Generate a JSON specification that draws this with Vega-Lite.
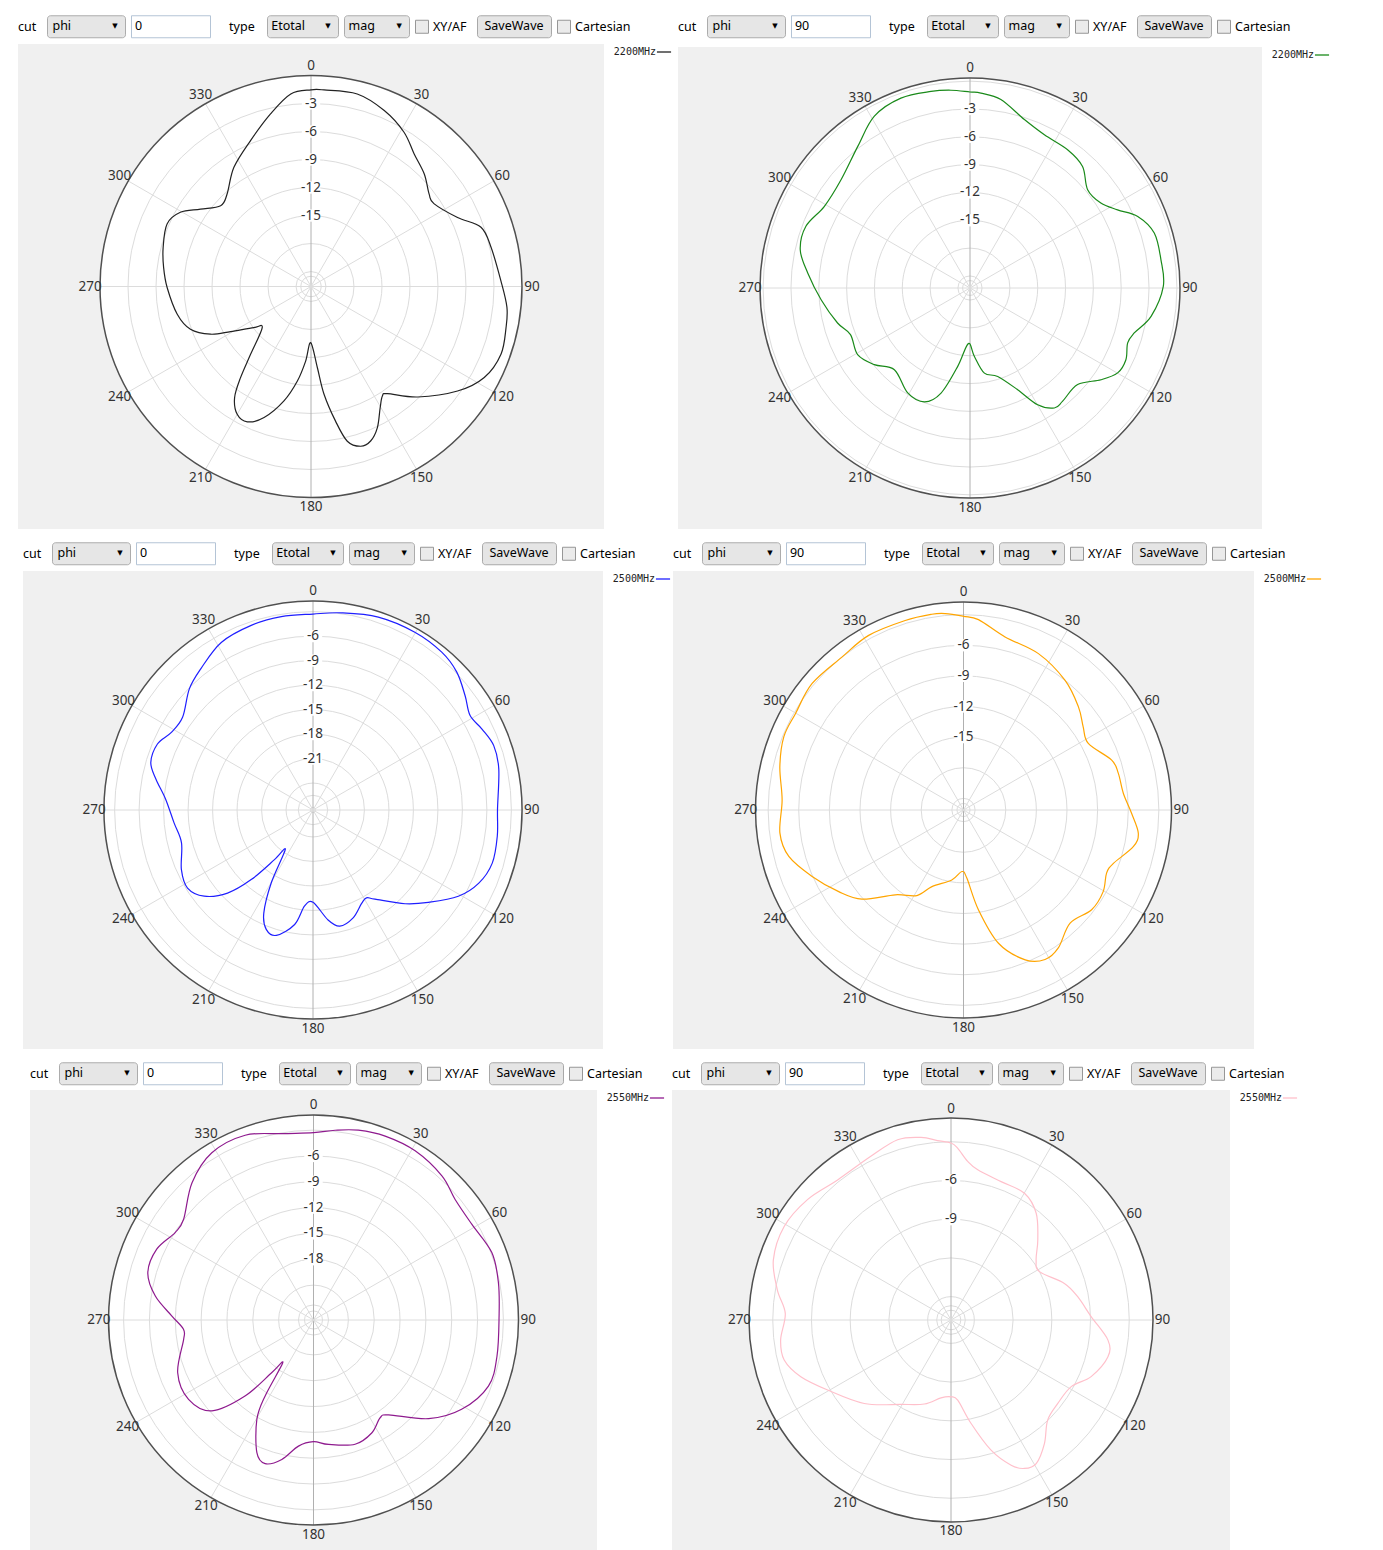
{
"$schema":"https://vega.github.io/schema/vega-lite/v6.json",
"padding":{"left":18,"top":14,"right":0,"bottom":0},
"background":"#ffffff",
"data":{"values":[{}]},
"config":{"view":{"stroke":null},"text":{"font":"Noto Sans","fontSize":12.5,"color":"#000000","baseline":"middle"},"legend":{"offset":52,"padding":0,"labelFont":"DejaVu Sans Mono","labelFontSize":10,"labelColor":"#222222","labelAlign":"right","labelOffset":-16,"symbolSize":200,"symbolStrokeWidth":1.3}},
"datasets":{
"levels":[{"p":"tl","lv":-3},{"p":"tl","lv":-6},{"p":"tl","lv":-9},{"p":"tl","lv":-12},{"p":"tl","lv":-15},{"p":"tl","lv":-18},{"p":"tl","lv":-21},{"p":"tl","lv":-21.5},
{"p":"tr","lv":0},{"p":"tr","lv":-3},{"p":"tr","lv":-6},{"p":"tr","lv":-9},{"p":"tr","lv":-12},{"p":"tr","lv":-15},{"p":"tr","lv":-18},{"p":"tr","lv":-21},{"p":"tr","lv":-21.5},
{"p":"ml","lv":-3},{"p":"ml","lv":-6},{"p":"ml","lv":-9},{"p":"ml","lv":-12},{"p":"ml","lv":-15},{"p":"ml","lv":-18},{"p":"ml","lv":-21},{"p":"ml","lv":-24},{"p":"ml","lv":-25.5},{"p":"ml","lv":-27},
{"p":"mr","lv":-3},{"p":"mr","lv":-6},{"p":"mr","lv":-9},{"p":"mr","lv":-12},{"p":"mr","lv":-15},{"p":"mr","lv":-18},{"p":"mr","lv":-21},{"p":"mr","lv":-21.5},
{"p":"bl","lv":-3},{"p":"bl","lv":-6},{"p":"bl","lv":-9},{"p":"bl","lv":-12},{"p":"bl","lv":-15},{"p":"bl","lv":-18},{"p":"bl","lv":-21},{"p":"bl","lv":-23.3},{"p":"bl","lv":-24},
{"p":"br","lv":-3},{"p":"br","lv":-6},{"p":"br","lv":-9},{"p":"br","lv":-12},{"p":"br","lv":-15},{"p":"br","lv":-15.7},{"p":"br","lv":-16.05}],
"ticks":[{"p":"tl","lv":-3},{"p":"tl","lv":-6},{"p":"tl","lv":-9},{"p":"tl","lv":-12},{"p":"tl","lv":-15},
{"p":"tr","lv":-3},{"p":"tr","lv":-6},{"p":"tr","lv":-9},{"p":"tr","lv":-12},{"p":"tr","lv":-15},
{"p":"ml","lv":-6},{"p":"ml","lv":-9},{"p":"ml","lv":-12},{"p":"ml","lv":-15},{"p":"ml","lv":-18},{"p":"ml","lv":-21},
{"p":"mr","lv":-6},{"p":"mr","lv":-9},{"p":"mr","lv":-12},{"p":"mr","lv":-15},
{"p":"bl","lv":-6},{"p":"bl","lv":-9},{"p":"bl","lv":-12},{"p":"bl","lv":-15},{"p":"bl","lv":-18},
{"p":"br","lv":-6},{"p":"br","lv":-9}],
"spokes":[{"a":0},{"a":30},{"a":60},{"a":90},{"a":120},{"a":150}],
"angles":[{"a":0},{"a":30},{"a":60},{"a":90},{"a":120},{"a":150},{"a":180},{"a":210},{"a":240},{"a":270},{"a":300},{"a":330}],
"tl":[{"t":0,"g":-1.53},{"t":3.8,"g":-1.5},{"t":13.5,"g":-1.39},{"t":22.6,"g":-2.18},{"t":31,"g":-3.29},{"t":37.9,"g":-4.61},{"t":45.2,"g":-5.5},{"t":52,"g":-6.54},{"t":56,"g":-6.72},{"t":64.8,"g":-5.25},{"t":70.8,"g":-3.32},{"t":77.8,"g":-2.86},{"t":88.3,"g":-2.25},{"t":96,"g":-1.5},{"t":101.9,"g":-1.25},{"t":109.6,"g":-1.0},{"t":117.7,"g":-1.64},{"t":125.5,"g":-3.32},{"t":136,"g":-6.15},{"t":144.5,"g":-8.51},{"t":146.9,"g":-8.6},{"t":150.3,"g":-7.65},{"t":154.8,"g":-5.9},{"t":158.9,"g":-4.86},{"t":162.7,"g":-4.68},{"t":166.8,"g":-5.58},{"t":169.7,"g":-7.97},{"t":173.1,"g":-10.98},{"t":175.5,"g":-13.87},{"t":180.3,"g":-16.59},{"t":184.1,"g":-14.59},{"t":188.2,"g":-12.37},{"t":193.3,"g":-10.01},{"t":199.7,"g":-7.69},{"t":205.2,"g":-6.58},{"t":210,"g":-6.79},{"t":214.5,"g":-8.15},{"t":217.7,"g":-10.26},{"t":221.7,"g":-12.87},{"t":229.9,"g":-15.77},{"t":234.3,"g":-15.05},{"t":240.7,"g":-12.73},{"t":244.6,"g":-10.69},{"t":250.5,"g":-8.9},{"t":258.3,"g":-7.97},{"t":269.6,"g":-7.19},{"t":277.4,"g":-6.68},{"t":284.8,"g":-6.22},{"t":293.5,"g":-5.79},{"t":299.6,"g":-6.51},{"t":305,"g":-8.15},{"t":311.8,"g":-9.62},{"t":317.8,"g":-9.22},{"t":327.1,"g":-7.4},{"t":337.5,"g":-5.68},{"t":346.8,"g":-3.61},{"t":354,"g":-1.86}],
"tr":[{"t":0,"g":-1.17},{"t":3.2,"g":-1.25},{"t":9.3,"g":-1.71},{"t":17.9,"g":-3.22},{"t":25.9,"g":-3.94},{"t":35.2,"g":-4.05},{"t":42.8,"g":-4.44},{"t":50.1,"g":-5.77},{"t":57,"g":-5.48},{"t":62.1,"g":-4.3},{"t":66.9,"g":-2.64},{"t":73.4,"g":-1.57},{"t":81.6,"g":-1.49},{"t":89.5,"g":-1.46},{"t":98.9,"g":-2.54},{"t":105.3,"g":-3.94},{"t":109.2,"g":-4.3},{"t":114.7,"g":-3.8},{"t":119.9,"g":-3.94},{"t":125,"g":-5.05},{"t":131.9,"g":-6.71},{"t":140.7,"g":-6.53},{"t":144.9,"g":-6.49},{"t":149.9,"g":-7.75},{"t":154.9,"g":-10.19},{"t":162.6,"g":-12.31},{"t":170.4,"g":-12.99},{"t":176.4,"g":-14.93},{"t":181.7,"g":-16.3},{"t":188.9,"g":-13.75},{"t":195.4,"g":-10.55},{"t":201.8,"g":-9.08},{"t":210.7,"g":-9.15},{"t":222.8,"g":-10.3},{"t":231.3,"g":-9.08},{"t":239.3,"g":-8.21},{"t":248.7,"g":-8.47},{"t":255.2,"g":-7.53},{"t":265.5,"g":-6.2},{"t":275.3,"g":-4.73},{"t":282.7,"g":-3.54},{"t":290.6,"g":-3.4},{"t":299.3,"g":-4.3},{"t":310,"g":-4.15},{"t":321.6,"g":-2.82},{"t":330.9,"g":-1.1},{"t":340,"g":-0.52},{"t":348.8,"g":-0.7},{"t":354.5,"g":-0.88}],
"ml":[{"t":0,"g":-3.3},{"t":8.2,"g":-2.9},{"t":18.7,"g":-2.35},{"t":29.8,"g":-2.2},{"t":39.2,"g":-2.35},{"t":46.2,"g":-2.9},{"t":53.1,"g":-4.0},{"t":59,"g":-4.85},{"t":64.4,"g":-4.35},{"t":70.4,"g":-3.8},{"t":77.6,"g":-4.0},{"t":89.8,"g":-4.7},{"t":98.1,"g":-4.5},{"t":106.5,"g":-4.4},{"t":113.8,"g":-5.1},{"t":120.7,"g":-6.6},{"t":128.7,"g":-9.2},{"t":135.5,"g":-11.2},{"t":145.2,"g":-14.0},{"t":148.7,"g":-14.7},{"t":152.5,"g":-14.4},{"t":159.6,"g":-13.2},{"t":167,"g":-12.7},{"t":172.2,"g":-13.7},{"t":180,"g":-16.0},{"t":185,"g":-15.5},{"t":189.1,"g":-13.1},{"t":196.3,"g":-11.3},{"t":201.4,"g":-11.6},{"t":205.5,"g":-13.3},{"t":209.8,"g":-17.0},{"t":215.1,"g":-21.4},{"t":217.8,"g":-19.6},{"t":221.6,"g":-15.9},{"t":225.8,"g":-12.7},{"t":231.6,"g":-10.3},{"t":238.1,"g":-9.2},{"t":245.6,"g":-9.6},{"t":256,"g":-10.7},{"t":264.8,"g":-10.2},{"t":274.2,"g":-9.2},{"t":281.1,"g":-7.7},{"t":286.3,"g":-6.6},{"t":293,"g":-6.6},{"t":298.6,"g":-7.5},{"t":305.4,"g":-7.7},{"t":314.4,"g":-6.1},{"t":321.6,"g":-5.2},{"t":331.3,"g":-3.9},{"t":341.5,"g":-3.45},{"t":350.7,"g":-3.3}],
"mr":[{"t":0,"g":-3.16},{"t":4.5,"g":-3.43},{"t":13.5,"g":-4.7},{"t":25.6,"g":-5.15},{"t":38,"g":-6.0},{"t":48.1,"g":-7.01},{"t":55.2,"g":-7.86},{"t":61.9,"g":-8.28},{"t":71.4,"g":-6.82},{"t":76.7,"g":-6.55},{"t":84.1,"g":-6.39},{"t":91.1,"g":-5.67},{"t":97.6,"g":-4.86},{"t":102.2,"g":-5.12},{"t":109.6,"g":-6.55},{"t":113.8,"g":-6.82},{"t":120.3,"g":-6.29},{"t":127.9,"g":-6.23},{"t":136.7,"g":-6.91},{"t":145.5,"g":-5.74},{"t":151.4,"g":-5.45},{"t":157.6,"g":-6.26},{"t":165.3,"g":-8.64},{"t":171.5,"g":-12.26},{"t":177.2,"g":-15.46},{"t":181.5,"g":-16.11},{"t":189.5,"g":-15.19},{"t":202.4,"g":-14.02},{"t":208.6,"g":-12.59},{"t":218.8,"g":-11.48},{"t":228.7,"g":-8.9},{"t":236.8,"g":-7.53},{"t":246.3,"g":-5.94},{"t":255.1,"g":-4.43},{"t":262.8,"g":-4.01},{"t":273.2,"g":-4.34},{"t":283.3,"g":-3.65},{"t":292.2,"g":-3.13},{"t":299.9,"g":-3.16},{"t":309.9,"g":-2.81},{"t":321.6,"g":-3.0},{"t":331.5,"g":-2.67},{"t":342.9,"g":-2.71},{"t":350.8,"g":-2.71},{"t":354.7,"g":-2.81}],
"bl":[{"t":0,"g":-3.29},{"t":6.5,"g":-2.87},{"t":13.3,"g":-2.4},{"t":21.3,"g":-2.13},{"t":31,"g":-2.13},{"t":41.7,"g":-2.63},{"t":49.6,"g":-3.45},{"t":58.9,"g":-3.56},{"t":69.3,"g":-2.91},{"t":78.6,"g":-3.14},{"t":88.8,"g":-3.49},{"t":101.1,"g":-3.33},{"t":110.7,"g":-3.33},{"t":121.1,"g":-4.96},{"t":130.6,"g":-7.44},{"t":141.7,"g":-11.0},{"t":145.7,"g":-11.31},{"t":152.6,"g":-10.3},{"t":161.5,"g":-9.83},{"t":173.1,"g":-10.49},{"t":180,"g":-10.92},{"t":186.8,"g":-10.3},{"t":192.8,"g":-8.44},{"t":198.6,"g":-7.44},{"t":203.1,"g":-8.29},{"t":209.7,"g":-11.77},{"t":212.5,"g":-14.6},{"t":215.7,"g":-18.93},{"t":218.4,"g":-17.27},{"t":222,"g":-13.16},{"t":228.2,"g":-9.22},{"t":237.6,"g":-7.86},{"t":248.8,"g":-8.13},{"t":261.5,"g":-9.8},{"t":265.9,"g":-9.91},{"t":271.6,"g":-8.6},{"t":278.6,"g":-6.47},{"t":285.9,"g":-5.04},{"t":294.3,"g":-5.07},{"t":302.3,"g":-6.04},{"t":307.8,"g":-5.96},{"t":318.5,"g":-3.76},{"t":328.7,"g":-2.32},{"t":339.7,"g":-2.17},{"t":350.4,"g":-3.1}],
"br":[{"t":0,"g":-3.1},{"t":2.2,"g":-3.48},{"t":6,"g":-4.45},{"t":10.1,"g":-4.99},{"t":19.9,"g":-5.41},{"t":30.1,"g":-5.46},{"t":38.6,"g":-6.23},{"t":47.3,"g":-7.66},{"t":54.8,"g":-8.74},{"t":61.3,"g":-9.0},{"t":72.1,"g":-7.58},{"t":79.6,"g":-6.83},{"t":88.6,"g":-5.95},{"t":97.3,"g":-4.55},{"t":103.2,"g":-4.32},{"t":112,"g":-5.1},{"t":119,"g":-6.16},{"t":128,"g":-6.31},{"t":136,"g":-6.03},{"t":142.9,"g":-4.81},{"t":149.3,"g":-3.88},{"t":153.7,"g":-3.98},{"t":157.5,"g":-4.63},{"t":162.9,"g":-6.26},{"t":169,"g":-8.64},{"t":175.2,"g":-10.58},{"t":180,"g":-10.86},{"t":187.3,"g":-10.73},{"t":197.6,"g":-9.98},{"t":210.7,"g":-9.21},{"t":226.1,"g":-7.48},{"t":240.4,"g":-5.82},{"t":249.3,"g":-4.37},{"t":256.5,"g":-3.52},{"t":263.3,"g":-3.52},{"t":272.3,"g":-3.96},{"t":279.8,"g":-3.16},{"t":288.7,"g":-2.28},{"t":299.2,"g":-1.99},{"t":310.1,"g":-2.3},{"t":321,"g":-2.85},{"t":333.9,"g":-2.69},{"t":343.5,"g":-2.25},{"t":350.7,"g":-2.48},{"t":355.7,"g":-2.87}]
},
"vconcat":[
{"hconcat":[
{"vconcat":[
{"hconcat":[
{"width":24,"height":22,"mark":{"type":"text","text":"cut","align":"left"},"encoding":{"x":{"datum":0,"type":"quantitative","scale":{"domain":[0,1]},"axis":null}}},
{"width":78,"height":22,"view":{"fill":"#e6e6e6","stroke":"#acacac","cornerRadius":3},"layer":[{"mark":{"type":"text","text":"phi","align":"left"},"encoding":{"x":{"datum":0.07,"type":"quantitative","scale":{"domain":[0,1]},"axis":null}}},{"mark":{"type":"text","text":"▼","font":"DejaVu Sans","fontSize":7},"encoding":{"x":{"datum":0.87,"type":"quantitative","scale":{"domain":[0,1]},"axis":null}}}]},
{"width":79,"height":22,"view":{"fill":"#ffffff","stroke":"#b4c4d6"},"mark":{"type":"text","text":"0","align":"left"},"encoding":{"x":{"datum":0.05,"type":"quantitative","scale":{"domain":[0,1]},"axis":null}}},
{"width":47,"height":22,"mark":{"type":"text","text":"type","align":"left"},"encoding":{"x":{"datum":0.3,"type":"quantitative","scale":{"domain":[0,1]},"axis":null}}},
{"width":71,"height":22,"view":{"fill":"#e6e6e6","stroke":"#acacac","cornerRadius":3},"layer":[{"mark":{"type":"text","text":"Etotal","align":"left"},"encoding":{"x":{"datum":0.06,"type":"quantitative","scale":{"domain":[0,1]},"axis":null}}},{"mark":{"type":"text","text":"▼","font":"DejaVu Sans","fontSize":7},"encoding":{"x":{"datum":0.86,"type":"quantitative","scale":{"domain":[0,1]},"axis":null}}}]},
{"width":65,"height":22,"view":{"fill":"#e6e6e6","stroke":"#acacac","cornerRadius":3},"layer":[{"mark":{"type":"text","text":"mag","align":"left"},"encoding":{"x":{"datum":0.07,"type":"quantitative","scale":{"domain":[0,1]},"axis":null}}},{"mark":{"type":"text","text":"▼","font":"DejaVu Sans","fontSize":7},"encoding":{"x":{"datum":0.85,"type":"quantitative","scale":{"domain":[0,1]},"axis":null}}}]},
{"width":13,"height":13,"view":{"fill":"#ebebeb","stroke":"#979797"},"mark":{"type":"text","text":""}},
{"width":39,"height":22,"mark":{"type":"text","text":"XY/AF","align":"left"},"encoding":{"x":{"datum":0,"type":"quantitative","scale":{"domain":[0,1]},"axis":null}}},
{"width":74,"height":22,"view":{"fill":"#e5e5e5","stroke":"#a8a8a8","cornerRadius":3},"mark":{"type":"text","text":"SaveWave"}},
{"width":13,"height":13,"view":{"fill":"#ebebeb","stroke":"#979797"},"mark":{"type":"text","text":""}},
{"width":60,"height":22,"mark":{"type":"text","text":"Cartesian","align":"left"},"encoding":{"x":{"datum":0,"type":"quantitative","scale":{"domain":[0,1]},"axis":null}}}
],"spacing":4,"center":true},
{"width":586,"height":485,"view":{"fill":"#f0f0f0"},"layer":[
{"data":{"values":[{}]},"mark":{"type":"arc","theta":0,"theta2":6.2832,"color":"#ffffff"},"encoding":{"radius":{"datum":1,"type":"quantitative","stack":null,"scale":{"type":"linear","domain":[0,1],"range":[0,211]}}}},
{"data":{"name":"levels"},"transform":[{"filter":"datum.p == 'tl'"},{"calculate":"(datum.lv + 22.6) / 22.6","as":"rn"}],"mark":{"type":"arc","theta":0,"theta2":6.2832,"filled":false,"color":"#dcdcdc","strokeWidth":1},"encoding":{"radius":{"field":"rn","type":"quantitative","stack":null,"scale":{"type":"linear","domain":[0,1],"range":[0,211]}}}},
{"data":{"name":"spokes"},"transform":[{"calculate":"sin(datum.a * PI / 180)","as":"sx"},{"calculate":"cos(datum.a * PI / 180)","as":"sy"},{"calculate":"-datum.sx","as":"ex"},{"calculate":"-datum.sy","as":"ey"}],"mark":{"type":"rule","strokeWidth":1},"encoding":{"x":{"field":"sx","type":"quantitative","scale":{"domain":[-1.38863,1.38863],"nice":false,"zero":false},"axis":null},"y":{"field":"sy","type":"quantitative","scale":{"domain":[-1.14929,1.14929],"nice":false,"zero":false},"axis":null},"x2":{"field":"ex"},"y2":{"field":"ey"},"color":{"condition":{"test":"datum.a == 0","value":"#b0b0b0"},"value":"#dcdcdc"}}},
{"data":{"values":[{}]},"mark":{"type":"arc","theta":0,"theta2":6.2832,"filled":false,"color":"#505050","strokeWidth":1.5},"encoding":{"radius":{"datum":1,"type":"quantitative","stack":null,"scale":{"type":"linear","domain":[0,1],"range":[0,211]}}}},
{"data":{"name":"tl"},"transform":[{"calculate":"(datum.g + 22.6) / 22.6","as":"rn"},{"calculate":"datum.rn * sin(datum.t * PI / 180)","as":"px"},{"calculate":"datum.rn * cos(datum.t * PI / 180)","as":"py"}],"mark":{"type":"line","interpolate":"cardinal-closed","strokeWidth":1.2},"encoding":{"x":{"field":"px","type":"quantitative","scale":{"domain":[-1.38863,1.38863],"nice":false,"zero":false},"axis":null},"y":{"field":"py","type":"quantitative","scale":{"domain":[-1.14929,1.14929],"nice":false,"zero":false},"axis":null},"order":{"field":"t","type":"quantitative"},"color":{"datum":"2200MHz","type":"nominal","scale":{"domain":["2200MHz"],"range":["#222222"]},"legend":{"title":null}}}},
{"data":{"name":"ticks"},"transform":[{"filter":"datum.p == 'tl'"},{"calculate":"(datum.lv + 22.6) / 22.6","as":"rn"}],"encoding":{"x":{"datum":0,"type":"quantitative","scale":{"domain":[-1.38863,1.38863],"nice":false,"zero":false},"axis":null},"y":{"field":"rn","type":"quantitative","scale":{"domain":[-1.14929,1.14929],"nice":false,"zero":false},"axis":null}},"layer":[{"mark":{"type":"point","shape":"M-1.5,-1L1.5,-1L1.5,1L-1.5,1Z","filled":true,"color":"#ffffff","opacity":1,"size":150,"strokeWidth":0}},{"mark":{"type":"text","fontSize":13.5,"color":"#333333"},"encoding":{"text":{"field":"lv","type":"nominal"}}}]},
{"data":{"name":"angles"},"transform":[{"calculate":"1.047 * sin(datum.a * PI / 180)","as":"lx"},{"calculate":"1.047 * cos(datum.a * PI / 180)","as":"ly"}],"mark":{"type":"text","fontSize":13.5,"color":"#333333"},"encoding":{"x":{"field":"lx","type":"quantitative","scale":{"domain":[-1.38863,1.38863],"nice":false,"zero":false},"axis":null},"y":{"field":"ly","type":"quantitative","scale":{"domain":[-1.14929,1.14929],"nice":false,"zero":false},"axis":null},"text":{"field":"a","type":"nominal"}}}
]}
],"spacing":6,"resolve":{"scale":{"color":"independent"},"legend":{"color":"independent"}}},
{"vconcat":[
{"hconcat":[
{"width":24,"height":22,"mark":{"type":"text","text":"cut","align":"left"},"encoding":{"x":{"datum":0,"type":"quantitative","scale":{"domain":[0,1]},"axis":null}}},
{"width":78,"height":22,"view":{"fill":"#e6e6e6","stroke":"#acacac","cornerRadius":3},"layer":[{"mark":{"type":"text","text":"phi","align":"left"},"encoding":{"x":{"datum":0.07,"type":"quantitative","scale":{"domain":[0,1]},"axis":null}}},{"mark":{"type":"text","text":"▼","font":"DejaVu Sans","fontSize":7},"encoding":{"x":{"datum":0.87,"type":"quantitative","scale":{"domain":[0,1]},"axis":null}}}]},
{"width":79,"height":22,"view":{"fill":"#ffffff","stroke":"#b4c4d6"},"mark":{"type":"text","text":"90","align":"left"},"encoding":{"x":{"datum":0.05,"type":"quantitative","scale":{"domain":[0,1]},"axis":null}}},
{"width":47,"height":22,"mark":{"type":"text","text":"type","align":"left"},"encoding":{"x":{"datum":0.3,"type":"quantitative","scale":{"domain":[0,1]},"axis":null}}},
{"width":71,"height":22,"view":{"fill":"#e6e6e6","stroke":"#acacac","cornerRadius":3},"layer":[{"mark":{"type":"text","text":"Etotal","align":"left"},"encoding":{"x":{"datum":0.06,"type":"quantitative","scale":{"domain":[0,1]},"axis":null}}},{"mark":{"type":"text","text":"▼","font":"DejaVu Sans","fontSize":7},"encoding":{"x":{"datum":0.86,"type":"quantitative","scale":{"domain":[0,1]},"axis":null}}}]},
{"width":65,"height":22,"view":{"fill":"#e6e6e6","stroke":"#acacac","cornerRadius":3},"layer":[{"mark":{"type":"text","text":"mag","align":"left"},"encoding":{"x":{"datum":0.07,"type":"quantitative","scale":{"domain":[0,1]},"axis":null}}},{"mark":{"type":"text","text":"▼","font":"DejaVu Sans","fontSize":7},"encoding":{"x":{"datum":0.85,"type":"quantitative","scale":{"domain":[0,1]},"axis":null}}}]},
{"width":13,"height":13,"view":{"fill":"#ebebeb","stroke":"#979797"},"mark":{"type":"text","text":""}},
{"width":39,"height":22,"mark":{"type":"text","text":"XY/AF","align":"left"},"encoding":{"x":{"datum":0,"type":"quantitative","scale":{"domain":[0,1]},"axis":null}}},
{"width":74,"height":22,"view":{"fill":"#e5e5e5","stroke":"#a8a8a8","cornerRadius":3},"mark":{"type":"text","text":"SaveWave"}},
{"width":13,"height":13,"view":{"fill":"#ebebeb","stroke":"#979797"},"mark":{"type":"text","text":""}},
{"width":60,"height":22,"mark":{"type":"text","text":"Cartesian","align":"left"},"encoding":{"x":{"datum":0,"type":"quantitative","scale":{"domain":[0,1]},"axis":null}}}
],"spacing":4,"center":true},
{"width":584,"height":482,"view":{"fill":"#f0f0f0"},"layer":[
{"data":{"values":[{}]},"mark":{"type":"arc","theta":0,"theta2":6.2832,"color":"#ffffff"},"encoding":{"radius":{"datum":1,"type":"quantitative","stack":null,"scale":{"type":"linear","domain":[0,1],"range":[0,210]}}}},
{"data":{"name":"levels"},"transform":[{"filter":"datum.p == 'tr'"},{"calculate":"(datum.lv + 22.3) / 22.64","as":"rn"}],"mark":{"type":"arc","theta":0,"theta2":6.2832,"filled":false,"color":"#dcdcdc","strokeWidth":1},"encoding":{"radius":{"field":"rn","type":"quantitative","stack":null,"scale":{"type":"linear","domain":[0,1],"range":[0,210]}}}},
{"data":{"name":"spokes"},"transform":[{"calculate":"sin(datum.a * PI / 180)","as":"sx"},{"calculate":"cos(datum.a * PI / 180)","as":"sy"},{"calculate":"-datum.sx","as":"ex"},{"calculate":"-datum.sy","as":"ey"}],"mark":{"type":"rule","strokeWidth":1},"encoding":{"x":{"field":"sx","type":"quantitative","scale":{"domain":[-1.39048,1.39048],"nice":false,"zero":false},"axis":null},"y":{"field":"sy","type":"quantitative","scale":{"domain":[-1.14762,1.14762],"nice":false,"zero":false},"axis":null},"x2":{"field":"ex"},"y2":{"field":"ey"},"color":{"condition":{"test":"datum.a == 0","value":"#b0b0b0"},"value":"#dcdcdc"}}},
{"data":{"values":[{}]},"mark":{"type":"arc","theta":0,"theta2":6.2832,"filled":false,"color":"#505050","strokeWidth":1.5},"encoding":{"radius":{"datum":1,"type":"quantitative","stack":null,"scale":{"type":"linear","domain":[0,1],"range":[0,210]}}}},
{"data":{"name":"tr"},"transform":[{"calculate":"(datum.g + 22.3) / 22.64","as":"rn"},{"calculate":"datum.rn * sin(datum.t * PI / 180)","as":"px"},{"calculate":"datum.rn * cos(datum.t * PI / 180)","as":"py"}],"mark":{"type":"line","interpolate":"cardinal-closed","strokeWidth":1.2},"encoding":{"x":{"field":"px","type":"quantitative","scale":{"domain":[-1.39048,1.39048],"nice":false,"zero":false},"axis":null},"y":{"field":"py","type":"quantitative","scale":{"domain":[-1.14762,1.14762],"nice":false,"zero":false},"axis":null},"order":{"field":"t","type":"quantitative"},"color":{"datum":"2200MHz","type":"nominal","scale":{"domain":["2200MHz"],"range":["#1a8a1a"]},"legend":{"title":null}}}},
{"data":{"name":"ticks"},"transform":[{"filter":"datum.p == 'tr'"},{"calculate":"(datum.lv + 22.3) / 22.64","as":"rn"}],"encoding":{"x":{"datum":0,"type":"quantitative","scale":{"domain":[-1.39048,1.39048],"nice":false,"zero":false},"axis":null},"y":{"field":"rn","type":"quantitative","scale":{"domain":[-1.14762,1.14762],"nice":false,"zero":false},"axis":null}},"layer":[{"mark":{"type":"point","shape":"M-1.5,-1L1.5,-1L1.5,1L-1.5,1Z","filled":true,"color":"#ffffff","opacity":1,"size":150,"strokeWidth":0}},{"mark":{"type":"text","fontSize":13.5,"color":"#333333"},"encoding":{"text":{"field":"lv","type":"nominal"}}}]},
{"data":{"name":"angles"},"transform":[{"calculate":"1.047 * sin(datum.a * PI / 180)","as":"lx"},{"calculate":"1.047 * cos(datum.a * PI / 180)","as":"ly"}],"mark":{"type":"text","fontSize":13.5,"color":"#333333"},"encoding":{"x":{"field":"lx","type":"quantitative","scale":{"domain":[-1.39048,1.39048],"nice":false,"zero":false},"axis":null},"y":{"field":"ly","type":"quantitative","scale":{"domain":[-1.14762,1.14762],"nice":false,"zero":false},"axis":null},"text":{"field":"a","type":"nominal"}}}
]}
],"spacing":9,"resolve":{"scale":{"color":"independent"},"legend":{"color":"independent"}}}
],"spacing":4,"resolve":{"scale":{"color":"independent"},"legend":{"color":"independent"}}},
{"hconcat":[
{"width":5,"height":22,"mark":{"type":"text","text":""}},
{"vconcat":[
{"hconcat":[
{"width":24,"height":22,"mark":{"type":"text","text":"cut","align":"left"},"encoding":{"x":{"datum":0,"type":"quantitative","scale":{"domain":[0,1]},"axis":null}}},
{"width":78,"height":22,"view":{"fill":"#e6e6e6","stroke":"#acacac","cornerRadius":3},"layer":[{"mark":{"type":"text","text":"phi","align":"left"},"encoding":{"x":{"datum":0.07,"type":"quantitative","scale":{"domain":[0,1]},"axis":null}}},{"mark":{"type":"text","text":"▼","font":"DejaVu Sans","fontSize":7},"encoding":{"x":{"datum":0.87,"type":"quantitative","scale":{"domain":[0,1]},"axis":null}}}]},
{"width":79,"height":22,"view":{"fill":"#ffffff","stroke":"#b4c4d6"},"mark":{"type":"text","text":"0","align":"left"},"encoding":{"x":{"datum":0.05,"type":"quantitative","scale":{"domain":[0,1]},"axis":null}}},
{"width":47,"height":22,"mark":{"type":"text","text":"type","align":"left"},"encoding":{"x":{"datum":0.3,"type":"quantitative","scale":{"domain":[0,1]},"axis":null}}},
{"width":71,"height":22,"view":{"fill":"#e6e6e6","stroke":"#acacac","cornerRadius":3},"layer":[{"mark":{"type":"text","text":"Etotal","align":"left"},"encoding":{"x":{"datum":0.06,"type":"quantitative","scale":{"domain":[0,1]},"axis":null}}},{"mark":{"type":"text","text":"▼","font":"DejaVu Sans","fontSize":7},"encoding":{"x":{"datum":0.86,"type":"quantitative","scale":{"domain":[0,1]},"axis":null}}}]},
{"width":65,"height":22,"view":{"fill":"#e6e6e6","stroke":"#acacac","cornerRadius":3},"layer":[{"mark":{"type":"text","text":"mag","align":"left"},"encoding":{"x":{"datum":0.07,"type":"quantitative","scale":{"domain":[0,1]},"axis":null}}},{"mark":{"type":"text","text":"▼","font":"DejaVu Sans","fontSize":7},"encoding":{"x":{"datum":0.85,"type":"quantitative","scale":{"domain":[0,1]},"axis":null}}}]},
{"width":13,"height":13,"view":{"fill":"#ebebeb","stroke":"#979797"},"mark":{"type":"text","text":""}},
{"width":39,"height":22,"mark":{"type":"text","text":"XY/AF","align":"left"},"encoding":{"x":{"datum":0,"type":"quantitative","scale":{"domain":[0,1]},"axis":null}}},
{"width":74,"height":22,"view":{"fill":"#e5e5e5","stroke":"#a8a8a8","cornerRadius":3},"mark":{"type":"text","text":"SaveWave"}},
{"width":13,"height":13,"view":{"fill":"#ebebeb","stroke":"#979797"},"mark":{"type":"text","text":""}},
{"width":60,"height":22,"mark":{"type":"text","text":"Cartesian","align":"left"},"encoding":{"x":{"datum":0,"type":"quantitative","scale":{"domain":[0,1]},"axis":null}}}
],"spacing":4,"center":true},
{"width":580,"height":478,"view":{"fill":"#f0f0f0"},"layer":[
{"data":{"values":[{}]},"mark":{"type":"arc","theta":0,"theta2":6.2832,"color":"#ffffff"},"encoding":{"radius":{"datum":1,"type":"quantitative","stack":null,"scale":{"type":"linear","domain":[0,1],"range":[0,209]}}}},
{"data":{"name":"levels"},"transform":[{"filter":"datum.p == 'ml'"},{"calculate":"(datum.lv + 27.3) / 25.6","as":"rn"}],"mark":{"type":"arc","theta":0,"theta2":6.2832,"filled":false,"color":"#dcdcdc","strokeWidth":1},"encoding":{"radius":{"field":"rn","type":"quantitative","stack":null,"scale":{"type":"linear","domain":[0,1],"range":[0,209]}}}},
{"data":{"name":"spokes"},"transform":[{"calculate":"sin(datum.a * PI / 180)","as":"sx"},{"calculate":"cos(datum.a * PI / 180)","as":"sy"},{"calculate":"-datum.sx","as":"ex"},{"calculate":"-datum.sy","as":"ey"}],"mark":{"type":"rule","strokeWidth":1},"encoding":{"x":{"field":"sx","type":"quantitative","scale":{"domain":[-1.38756,1.38756],"nice":false,"zero":false},"axis":null},"y":{"field":"sy","type":"quantitative","scale":{"domain":[-1.14354,1.14354],"nice":false,"zero":false},"axis":null},"x2":{"field":"ex"},"y2":{"field":"ey"},"color":{"condition":{"test":"datum.a == 0","value":"#b0b0b0"},"value":"#dcdcdc"}}},
{"data":{"values":[{}]},"mark":{"type":"arc","theta":0,"theta2":6.2832,"filled":false,"color":"#505050","strokeWidth":1.5},"encoding":{"radius":{"datum":1,"type":"quantitative","stack":null,"scale":{"type":"linear","domain":[0,1],"range":[0,209]}}}},
{"data":{"name":"ml"},"transform":[{"calculate":"(datum.g + 27.3) / 25.6","as":"rn"},{"calculate":"datum.rn * sin(datum.t * PI / 180)","as":"px"},{"calculate":"datum.rn * cos(datum.t * PI / 180)","as":"py"}],"mark":{"type":"line","interpolate":"cardinal-closed","strokeWidth":1.2},"encoding":{"x":{"field":"px","type":"quantitative","scale":{"domain":[-1.38756,1.38756],"nice":false,"zero":false},"axis":null},"y":{"field":"py","type":"quantitative","scale":{"domain":[-1.14354,1.14354],"nice":false,"zero":false},"axis":null},"order":{"field":"t","type":"quantitative"},"color":{"datum":"2500MHz","type":"nominal","scale":{"domain":["2500MHz"],"range":["#1f1fff"]},"legend":{"title":null}}}},
{"data":{"name":"ticks"},"transform":[{"filter":"datum.p == 'ml'"},{"calculate":"(datum.lv + 27.3) / 25.6","as":"rn"}],"encoding":{"x":{"datum":0,"type":"quantitative","scale":{"domain":[-1.38756,1.38756],"nice":false,"zero":false},"axis":null},"y":{"field":"rn","type":"quantitative","scale":{"domain":[-1.14354,1.14354],"nice":false,"zero":false},"axis":null}},"layer":[{"mark":{"type":"point","shape":"M-1.5,-1L1.5,-1L1.5,1L-1.5,1Z","filled":true,"color":"#ffffff","opacity":1,"size":150,"strokeWidth":0}},{"mark":{"type":"text","fontSize":13.5,"color":"#333333"},"encoding":{"text":{"field":"lv","type":"nominal"}}}]},
{"data":{"name":"angles"},"transform":[{"calculate":"1.047 * sin(datum.a * PI / 180)","as":"lx"},{"calculate":"1.047 * cos(datum.a * PI / 180)","as":"ly"}],"mark":{"type":"text","fontSize":13.5,"color":"#333333"},"encoding":{"x":{"field":"lx","type":"quantitative","scale":{"domain":[-1.38756,1.38756],"nice":false,"zero":false},"axis":null},"y":{"field":"ly","type":"quantitative","scale":{"domain":[-1.14354,1.14354],"nice":false,"zero":false},"axis":null},"text":{"field":"a","type":"nominal"}}}
]}
],"spacing":6,"resolve":{"scale":{"color":"independent"},"legend":{"color":"independent"}}},
{"vconcat":[
{"hconcat":[
{"width":24,"height":22,"mark":{"type":"text","text":"cut","align":"left"},"encoding":{"x":{"datum":0,"type":"quantitative","scale":{"domain":[0,1]},"axis":null}}},
{"width":78,"height":22,"view":{"fill":"#e6e6e6","stroke":"#acacac","cornerRadius":3},"layer":[{"mark":{"type":"text","text":"phi","align":"left"},"encoding":{"x":{"datum":0.07,"type":"quantitative","scale":{"domain":[0,1]},"axis":null}}},{"mark":{"type":"text","text":"▼","font":"DejaVu Sans","fontSize":7},"encoding":{"x":{"datum":0.87,"type":"quantitative","scale":{"domain":[0,1]},"axis":null}}}]},
{"width":79,"height":22,"view":{"fill":"#ffffff","stroke":"#b4c4d6"},"mark":{"type":"text","text":"90","align":"left"},"encoding":{"x":{"datum":0.05,"type":"quantitative","scale":{"domain":[0,1]},"axis":null}}},
{"width":47,"height":22,"mark":{"type":"text","text":"type","align":"left"},"encoding":{"x":{"datum":0.3,"type":"quantitative","scale":{"domain":[0,1]},"axis":null}}},
{"width":71,"height":22,"view":{"fill":"#e6e6e6","stroke":"#acacac","cornerRadius":3},"layer":[{"mark":{"type":"text","text":"Etotal","align":"left"},"encoding":{"x":{"datum":0.06,"type":"quantitative","scale":{"domain":[0,1]},"axis":null}}},{"mark":{"type":"text","text":"▼","font":"DejaVu Sans","fontSize":7},"encoding":{"x":{"datum":0.86,"type":"quantitative","scale":{"domain":[0,1]},"axis":null}}}]},
{"width":65,"height":22,"view":{"fill":"#e6e6e6","stroke":"#acacac","cornerRadius":3},"layer":[{"mark":{"type":"text","text":"mag","align":"left"},"encoding":{"x":{"datum":0.07,"type":"quantitative","scale":{"domain":[0,1]},"axis":null}}},{"mark":{"type":"text","text":"▼","font":"DejaVu Sans","fontSize":7},"encoding":{"x":{"datum":0.85,"type":"quantitative","scale":{"domain":[0,1]},"axis":null}}}]},
{"width":13,"height":13,"view":{"fill":"#ebebeb","stroke":"#979797"},"mark":{"type":"text","text":""}},
{"width":39,"height":22,"mark":{"type":"text","text":"XY/AF","align":"left"},"encoding":{"x":{"datum":0,"type":"quantitative","scale":{"domain":[0,1]},"axis":null}}},
{"width":74,"height":22,"view":{"fill":"#e5e5e5","stroke":"#a8a8a8","cornerRadius":3},"mark":{"type":"text","text":"SaveWave"}},
{"width":13,"height":13,"view":{"fill":"#ebebeb","stroke":"#979797"},"mark":{"type":"text","text":""}},
{"width":60,"height":22,"mark":{"type":"text","text":"Cartesian","align":"left"},"encoding":{"x":{"datum":0,"type":"quantitative","scale":{"domain":[0,1]},"axis":null}}}
],"spacing":4,"center":true},
{"width":581,"height":478,"view":{"fill":"#f0f0f0"},"layer":[
{"data":{"values":[{}]},"mark":{"type":"arc","theta":0,"theta2":6.2832,"color":"#ffffff"},"encoding":{"radius":{"datum":1,"type":"quantitative","stack":null,"scale":{"type":"linear","domain":[0,1],"range":[0,208]}}}},
{"data":{"name":"levels"},"transform":[{"filter":"datum.p == 'mr'"},{"calculate":"(datum.lv + 22.14) / 20.38","as":"rn"}],"mark":{"type":"arc","theta":0,"theta2":6.2832,"filled":false,"color":"#dcdcdc","strokeWidth":1},"encoding":{"radius":{"field":"rn","type":"quantitative","stack":null,"scale":{"type":"linear","domain":[0,1],"range":[0,208]}}}},
{"data":{"name":"spokes"},"transform":[{"calculate":"sin(datum.a * PI / 180)","as":"sx"},{"calculate":"cos(datum.a * PI / 180)","as":"sy"},{"calculate":"-datum.sx","as":"ex"},{"calculate":"-datum.sy","as":"ey"}],"mark":{"type":"rule","strokeWidth":1},"encoding":{"x":{"field":"sx","type":"quantitative","scale":{"domain":[-1.39663,1.39663],"nice":false,"zero":false},"axis":null},"y":{"field":"sy","type":"quantitative","scale":{"domain":[-1.14904,1.14904],"nice":false,"zero":false},"axis":null},"x2":{"field":"ex"},"y2":{"field":"ey"},"color":{"condition":{"test":"datum.a == 0","value":"#b0b0b0"},"value":"#dcdcdc"}}},
{"data":{"values":[{}]},"mark":{"type":"arc","theta":0,"theta2":6.2832,"filled":false,"color":"#505050","strokeWidth":1.5},"encoding":{"radius":{"datum":1,"type":"quantitative","stack":null,"scale":{"type":"linear","domain":[0,1],"range":[0,208]}}}},
{"data":{"name":"mr"},"transform":[{"calculate":"(datum.g + 22.14) / 20.38","as":"rn"},{"calculate":"datum.rn * sin(datum.t * PI / 180)","as":"px"},{"calculate":"datum.rn * cos(datum.t * PI / 180)","as":"py"}],"mark":{"type":"line","interpolate":"cardinal-closed","strokeWidth":1.2},"encoding":{"x":{"field":"px","type":"quantitative","scale":{"domain":[-1.39663,1.39663],"nice":false,"zero":false},"axis":null},"y":{"field":"py","type":"quantitative","scale":{"domain":[-1.14904,1.14904],"nice":false,"zero":false},"axis":null},"order":{"field":"t","type":"quantitative"},"color":{"datum":"2500MHz","type":"nominal","scale":{"domain":["2500MHz"],"range":["#ffa500"]},"legend":{"title":null}}}},
{"data":{"name":"ticks"},"transform":[{"filter":"datum.p == 'mr'"},{"calculate":"(datum.lv + 22.14) / 20.38","as":"rn"}],"encoding":{"x":{"datum":0,"type":"quantitative","scale":{"domain":[-1.39663,1.39663],"nice":false,"zero":false},"axis":null},"y":{"field":"rn","type":"quantitative","scale":{"domain":[-1.14904,1.14904],"nice":false,"zero":false},"axis":null}},"layer":[{"mark":{"type":"point","shape":"M-1.5,-1L1.5,-1L1.5,1L-1.5,1Z","filled":true,"color":"#ffffff","opacity":1,"size":150,"strokeWidth":0}},{"mark":{"type":"text","fontSize":13.5,"color":"#333333"},"encoding":{"text":{"field":"lv","type":"nominal"}}}]},
{"data":{"name":"angles"},"transform":[{"calculate":"1.047 * sin(datum.a * PI / 180)","as":"lx"},{"calculate":"1.047 * cos(datum.a * PI / 180)","as":"ly"}],"mark":{"type":"text","fontSize":13.5,"color":"#333333"},"encoding":{"x":{"field":"lx","type":"quantitative","scale":{"domain":[-1.39663,1.39663],"nice":false,"zero":false},"axis":null},"y":{"field":"ly","type":"quantitative","scale":{"domain":[-1.14904,1.14904],"nice":false,"zero":false},"axis":null},"text":{"field":"a","type":"nominal"}}}
]}
],"spacing":6,"resolve":{"scale":{"color":"independent"},"legend":{"color":"independent"}}}
],"spacing":0,"resolve":{"scale":{"color":"independent"},"legend":{"color":"independent"}}},
{"hconcat":[
{"width":7,"height":22,"mark":{"type":"text","text":""}},
{"vconcat":[
{"hconcat":[
{"width":24,"height":22,"mark":{"type":"text","text":"cut","align":"left"},"encoding":{"x":{"datum":0,"type":"quantitative","scale":{"domain":[0,1]},"axis":null}}},
{"width":78,"height":22,"view":{"fill":"#e6e6e6","stroke":"#acacac","cornerRadius":3},"layer":[{"mark":{"type":"text","text":"phi","align":"left"},"encoding":{"x":{"datum":0.07,"type":"quantitative","scale":{"domain":[0,1]},"axis":null}}},{"mark":{"type":"text","text":"▼","font":"DejaVu Sans","fontSize":7},"encoding":{"x":{"datum":0.87,"type":"quantitative","scale":{"domain":[0,1]},"axis":null}}}]},
{"width":79,"height":22,"view":{"fill":"#ffffff","stroke":"#b4c4d6"},"mark":{"type":"text","text":"0","align":"left"},"encoding":{"x":{"datum":0.05,"type":"quantitative","scale":{"domain":[0,1]},"axis":null}}},
{"width":47,"height":22,"mark":{"type":"text","text":"type","align":"left"},"encoding":{"x":{"datum":0.3,"type":"quantitative","scale":{"domain":[0,1]},"axis":null}}},
{"width":71,"height":22,"view":{"fill":"#e6e6e6","stroke":"#acacac","cornerRadius":3},"layer":[{"mark":{"type":"text","text":"Etotal","align":"left"},"encoding":{"x":{"datum":0.06,"type":"quantitative","scale":{"domain":[0,1]},"axis":null}}},{"mark":{"type":"text","text":"▼","font":"DejaVu Sans","fontSize":7},"encoding":{"x":{"datum":0.86,"type":"quantitative","scale":{"domain":[0,1]},"axis":null}}}]},
{"width":65,"height":22,"view":{"fill":"#e6e6e6","stroke":"#acacac","cornerRadius":3},"layer":[{"mark":{"type":"text","text":"mag","align":"left"},"encoding":{"x":{"datum":0.07,"type":"quantitative","scale":{"domain":[0,1]},"axis":null}}},{"mark":{"type":"text","text":"▼","font":"DejaVu Sans","fontSize":7},"encoding":{"x":{"datum":0.85,"type":"quantitative","scale":{"domain":[0,1]},"axis":null}}}]},
{"width":13,"height":13,"view":{"fill":"#ebebeb","stroke":"#979797"},"mark":{"type":"text","text":""}},
{"width":39,"height":22,"mark":{"type":"text","text":"XY/AF","align":"left"},"encoding":{"x":{"datum":0,"type":"quantitative","scale":{"domain":[0,1]},"axis":null}}},
{"width":74,"height":22,"view":{"fill":"#e5e5e5","stroke":"#a8a8a8","cornerRadius":3},"mark":{"type":"text","text":"SaveWave"}},
{"width":13,"height":13,"view":{"fill":"#ebebeb","stroke":"#979797"},"mark":{"type":"text","text":""}},
{"width":60,"height":22,"mark":{"type":"text","text":"Cartesian","align":"left"},"encoding":{"x":{"datum":0,"type":"quantitative","scale":{"domain":[0,1]},"axis":null}}}
],"spacing":4,"center":true},
{"width":567,"height":460,"view":{"fill":"#f0f0f0"},"layer":[
{"data":{"values":[{}]},"mark":{"type":"arc","theta":0,"theta2":6.2832,"color":"#ffffff"},"encoding":{"radius":{"datum":1,"type":"quantitative","stack":null,"scale":{"type":"linear","domain":[0,1],"range":[0,205]}}}},
{"data":{"name":"levels"},"transform":[{"filter":"datum.p == 'bl'"},{"calculate":"(datum.lv + 25.05) / 23.81","as":"rn"}],"mark":{"type":"arc","theta":0,"theta2":6.2832,"filled":false,"color":"#dcdcdc","strokeWidth":1},"encoding":{"radius":{"field":"rn","type":"quantitative","stack":null,"scale":{"type":"linear","domain":[0,1],"range":[0,205]}}}},
{"data":{"name":"spokes"},"transform":[{"calculate":"sin(datum.a * PI / 180)","as":"sx"},{"calculate":"cos(datum.a * PI / 180)","as":"sy"},{"calculate":"-datum.sx","as":"ex"},{"calculate":"-datum.sy","as":"ey"}],"mark":{"type":"rule","strokeWidth":1},"encoding":{"x":{"field":"sx","type":"quantitative","scale":{"domain":[-1.38293,1.38293],"nice":false,"zero":false},"axis":null},"y":{"field":"sy","type":"quantitative","scale":{"domain":[-1.12195,1.12195],"nice":false,"zero":false},"axis":null},"x2":{"field":"ex"},"y2":{"field":"ey"},"color":{"condition":{"test":"datum.a == 0","value":"#b0b0b0"},"value":"#dcdcdc"}}},
{"data":{"values":[{}]},"mark":{"type":"arc","theta":0,"theta2":6.2832,"filled":false,"color":"#505050","strokeWidth":1.5},"encoding":{"radius":{"datum":1,"type":"quantitative","stack":null,"scale":{"type":"linear","domain":[0,1],"range":[0,205]}}}},
{"data":{"name":"bl"},"transform":[{"calculate":"(datum.g + 25.05) / 23.81","as":"rn"},{"calculate":"datum.rn * sin(datum.t * PI / 180)","as":"px"},{"calculate":"datum.rn * cos(datum.t * PI / 180)","as":"py"}],"mark":{"type":"line","interpolate":"cardinal-closed","strokeWidth":1.2},"encoding":{"x":{"field":"px","type":"quantitative","scale":{"domain":[-1.38293,1.38293],"nice":false,"zero":false},"axis":null},"y":{"field":"py","type":"quantitative","scale":{"domain":[-1.12195,1.12195],"nice":false,"zero":false},"axis":null},"order":{"field":"t","type":"quantitative"},"color":{"datum":"2550MHz","type":"nominal","scale":{"domain":["2550MHz"],"range":["#8e1a8e"]},"legend":{"title":null}}}},
{"data":{"name":"ticks"},"transform":[{"filter":"datum.p == 'bl'"},{"calculate":"(datum.lv + 25.05) / 23.81","as":"rn"}],"encoding":{"x":{"datum":0,"type":"quantitative","scale":{"domain":[-1.38293,1.38293],"nice":false,"zero":false},"axis":null},"y":{"field":"rn","type":"quantitative","scale":{"domain":[-1.12195,1.12195],"nice":false,"zero":false},"axis":null}},"layer":[{"mark":{"type":"point","shape":"M-1.5,-1L1.5,-1L1.5,1L-1.5,1Z","filled":true,"color":"#ffffff","opacity":1,"size":150,"strokeWidth":0}},{"mark":{"type":"text","fontSize":13.5,"color":"#333333"},"encoding":{"text":{"field":"lv","type":"nominal"}}}]},
{"data":{"name":"angles"},"transform":[{"calculate":"1.047 * sin(datum.a * PI / 180)","as":"lx"},{"calculate":"1.047 * cos(datum.a * PI / 180)","as":"ly"}],"mark":{"type":"text","fontSize":13.5,"color":"#333333"},"encoding":{"x":{"field":"lx","type":"quantitative","scale":{"domain":[-1.38293,1.38293],"nice":false,"zero":false},"axis":null},"y":{"field":"ly","type":"quantitative","scale":{"domain":[-1.12195,1.12195],"nice":false,"zero":false},"axis":null},"text":{"field":"a","type":"nominal"}}}
]}
],"spacing":5,"resolve":{"scale":{"color":"independent"},"legend":{"color":"independent"}}},
{"vconcat":[
{"hconcat":[
{"width":24,"height":22,"mark":{"type":"text","text":"cut","align":"left"},"encoding":{"x":{"datum":0,"type":"quantitative","scale":{"domain":[0,1]},"axis":null}}},
{"width":78,"height":22,"view":{"fill":"#e6e6e6","stroke":"#acacac","cornerRadius":3},"layer":[{"mark":{"type":"text","text":"phi","align":"left"},"encoding":{"x":{"datum":0.07,"type":"quantitative","scale":{"domain":[0,1]},"axis":null}}},{"mark":{"type":"text","text":"▼","font":"DejaVu Sans","fontSize":7},"encoding":{"x":{"datum":0.87,"type":"quantitative","scale":{"domain":[0,1]},"axis":null}}}]},
{"width":79,"height":22,"view":{"fill":"#ffffff","stroke":"#b4c4d6"},"mark":{"type":"text","text":"90","align":"left"},"encoding":{"x":{"datum":0.05,"type":"quantitative","scale":{"domain":[0,1]},"axis":null}}},
{"width":47,"height":22,"mark":{"type":"text","text":"type","align":"left"},"encoding":{"x":{"datum":0.3,"type":"quantitative","scale":{"domain":[0,1]},"axis":null}}},
{"width":71,"height":22,"view":{"fill":"#e6e6e6","stroke":"#acacac","cornerRadius":3},"layer":[{"mark":{"type":"text","text":"Etotal","align":"left"},"encoding":{"x":{"datum":0.06,"type":"quantitative","scale":{"domain":[0,1]},"axis":null}}},{"mark":{"type":"text","text":"▼","font":"DejaVu Sans","fontSize":7},"encoding":{"x":{"datum":0.86,"type":"quantitative","scale":{"domain":[0,1]},"axis":null}}}]},
{"width":65,"height":22,"view":{"fill":"#e6e6e6","stroke":"#acacac","cornerRadius":3},"layer":[{"mark":{"type":"text","text":"mag","align":"left"},"encoding":{"x":{"datum":0.07,"type":"quantitative","scale":{"domain":[0,1]},"axis":null}}},{"mark":{"type":"text","text":"▼","font":"DejaVu Sans","fontSize":7},"encoding":{"x":{"datum":0.85,"type":"quantitative","scale":{"domain":[0,1]},"axis":null}}}]},
{"width":13,"height":13,"view":{"fill":"#ebebeb","stroke":"#979797"},"mark":{"type":"text","text":""}},
{"width":39,"height":22,"mark":{"type":"text","text":"XY/AF","align":"left"},"encoding":{"x":{"datum":0,"type":"quantitative","scale":{"domain":[0,1]},"axis":null}}},
{"width":74,"height":22,"view":{"fill":"#e5e5e5","stroke":"#a8a8a8","cornerRadius":3},"mark":{"type":"text","text":"SaveWave"}},
{"width":13,"height":13,"view":{"fill":"#ebebeb","stroke":"#979797"},"mark":{"type":"text","text":""}},
{"width":60,"height":22,"mark":{"type":"text","text":"Cartesian","align":"left"},"encoding":{"x":{"datum":0,"type":"quantitative","scale":{"domain":[0,1]},"axis":null}}}
],"spacing":4,"center":true},
{"width":558,"height":460,"view":{"fill":"#f0f0f0"},"layer":[
{"data":{"values":[{}]},"mark":{"type":"arc","theta":0,"theta2":6.2832,"color":"#ffffff"},"encoding":{"radius":{"datum":1,"type":"quantitative","stack":null,"scale":{"type":"linear","domain":[0,1],"range":[0,202]}}}},
{"data":{"name":"levels"},"transform":[{"filter":"datum.p == 'br'"},{"calculate":"(datum.lv + 16.81) / 15.65","as":"rn"}],"mark":{"type":"arc","theta":0,"theta2":6.2832,"filled":false,"color":"#dcdcdc","strokeWidth":1},"encoding":{"radius":{"field":"rn","type":"quantitative","stack":null,"scale":{"type":"linear","domain":[0,1],"range":[0,202]}}}},
{"data":{"name":"spokes"},"transform":[{"calculate":"sin(datum.a * PI / 180)","as":"sx"},{"calculate":"cos(datum.a * PI / 180)","as":"sy"},{"calculate":"-datum.sx","as":"ex"},{"calculate":"-datum.sy","as":"ey"}],"mark":{"type":"rule","strokeWidth":1},"encoding":{"x":{"field":"sx","type":"quantitative","scale":{"domain":[-1.38119,1.38119],"nice":false,"zero":false},"axis":null},"y":{"field":"sy","type":"quantitative","scale":{"domain":[-1.13861,1.13861],"nice":false,"zero":false},"axis":null},"x2":{"field":"ex"},"y2":{"field":"ey"},"color":{"condition":{"test":"datum.a == 0","value":"#b0b0b0"},"value":"#dcdcdc"}}},
{"data":{"values":[{}]},"mark":{"type":"arc","theta":0,"theta2":6.2832,"filled":false,"color":"#505050","strokeWidth":1.5},"encoding":{"radius":{"datum":1,"type":"quantitative","stack":null,"scale":{"type":"linear","domain":[0,1],"range":[0,202]}}}},
{"data":{"name":"br"},"transform":[{"calculate":"(datum.g + 16.81) / 15.65","as":"rn"},{"calculate":"datum.rn * sin(datum.t * PI / 180)","as":"px"},{"calculate":"datum.rn * cos(datum.t * PI / 180)","as":"py"}],"mark":{"type":"line","interpolate":"cardinal-closed","strokeWidth":1.2},"encoding":{"x":{"field":"px","type":"quantitative","scale":{"domain":[-1.38119,1.38119],"nice":false,"zero":false},"axis":null},"y":{"field":"py","type":"quantitative","scale":{"domain":[-1.13861,1.13861],"nice":false,"zero":false},"axis":null},"order":{"field":"t","type":"quantitative"},"color":{"datum":"2550MHz","type":"nominal","scale":{"domain":["2550MHz"],"range":["#ffc0cb"]},"legend":{"title":null}}}},
{"data":{"name":"ticks"},"transform":[{"filter":"datum.p == 'br'"},{"calculate":"(datum.lv + 16.81) / 15.65","as":"rn"}],"encoding":{"x":{"datum":0,"type":"quantitative","scale":{"domain":[-1.38119,1.38119],"nice":false,"zero":false},"axis":null},"y":{"field":"rn","type":"quantitative","scale":{"domain":[-1.13861,1.13861],"nice":false,"zero":false},"axis":null}},"layer":[{"mark":{"type":"point","shape":"M-1.5,-1L1.5,-1L1.5,1L-1.5,1Z","filled":true,"color":"#ffffff","opacity":1,"size":150,"strokeWidth":0}},{"mark":{"type":"text","fontSize":13.5,"color":"#333333"},"encoding":{"text":{"field":"lv","type":"nominal"}}}]},
{"data":{"name":"angles"},"transform":[{"calculate":"1.047 * sin(datum.a * PI / 180)","as":"lx"},{"calculate":"1.047 * cos(datum.a * PI / 180)","as":"ly"}],"mark":{"type":"text","fontSize":13.5,"color":"#333333"},"encoding":{"x":{"field":"lx","type":"quantitative","scale":{"domain":[-1.38119,1.38119],"nice":false,"zero":false},"axis":null},"y":{"field":"ly","type":"quantitative","scale":{"domain":[-1.13861,1.13861],"nice":false,"zero":false},"axis":null},"text":{"field":"a","type":"nominal"}}}
]}
],"spacing":5,"resolve":{"scale":{"color":"independent"},"legend":{"color":"independent"}}}
],"spacing":5,"resolve":{"scale":{"color":"independent"},"legend":{"color":"independent"}}}
],"spacing":12,"resolve":{"scale":{"color":"independent"},"legend":{"color":"independent"}}
}
